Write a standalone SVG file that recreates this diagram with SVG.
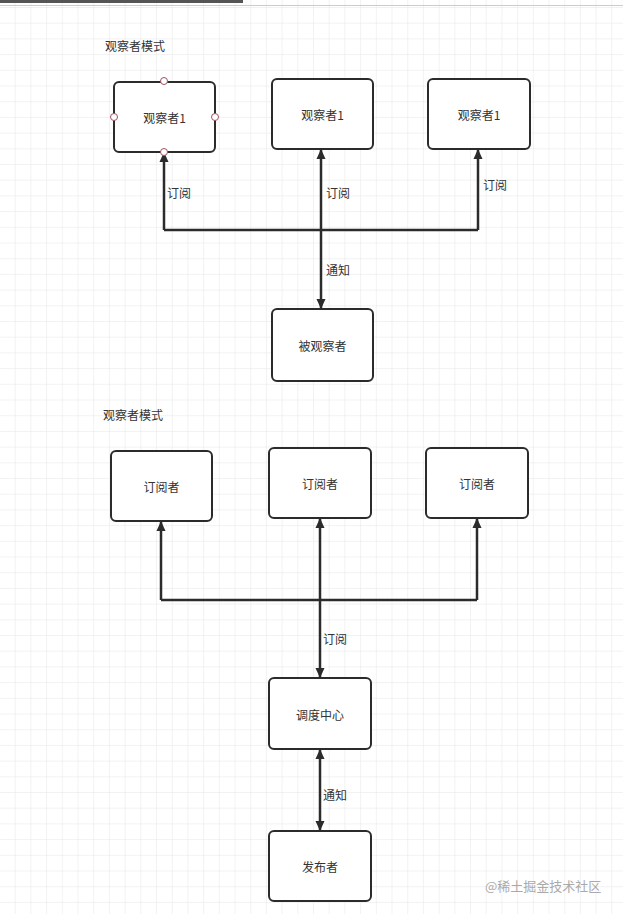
<svg xmlns="http://www.w3.org/2000/svg" width="623" height="914" viewBox="0 0 623 914">
<defs>
<pattern id="g" width="15.7" height="15.7" patternUnits="userSpaceOnUse" x="0" y="8">
<path d="M15.7 0V15.7M0 15.7H15.7" fill="none" stroke="#e6e6e6" stroke-width="1"/>
</pattern>
<marker id="a" markerWidth="10" markerHeight="10" refX="9" refY="5" orient="auto-start-reverse" markerUnits="userSpaceOnUse">
<path d="M0 0.5L10 5L0 9.5Z" fill="#2b2b2b"/>
</marker>
<style>
.n rect{fill:#fff;stroke:#2b2b2b;stroke-width:2}
text{font-family:"Noto Sans CJK SC","Liberation Sans",sans-serif;font-size:12px;fill:#333}
.c{text-anchor:middle;dominant-baseline:central}
.e path{fill:none;stroke:#2b2b2b;stroke-width:2.5}
.p{fill:#fff;stroke:#a05060;stroke-width:1}
</style>
</defs>
<rect width="623" height="914" fill="#fff"/>
<rect width="623" height="914" fill="url(#g)"/>
<rect x="0" y="0" width="243" height="3" fill="#555"/>
<rect x="0" y="5" width="623" height="1" fill="#ccc"/>
<text x="105" y="51">观察者模式</text>
<text x="103" y="420">观察者模式</text>
<g class="e">
<path d="M164 230V153" marker-end="url(#a)"/>
<path d="M478 230V150" marker-end="url(#a)"/>
<path d="M164 230H478"/>
<path d="M321 308V150" marker-end="url(#a)" marker-start="url(#a)"/>
<path d="M161 600V522" marker-end="url(#a)"/>
<path d="M477 600V519" marker-end="url(#a)"/>
<path d="M161 600H477"/>
<path d="M320 677V519" marker-end="url(#a)" marker-start="url(#a)"/>
<path d="M320 830V750" marker-end="url(#a)" marker-start="url(#a)"/>
</g>
<g>
<text x="167" y="198">订阅</text>
<text x="326" y="198">订阅</text>
<text x="483" y="190">订阅</text>
<text x="326" y="275">通知</text>
<text x="323" y="644">订阅</text>
<text x="323" y="800">通知</text>
</g>
<g id="o1" class="n"><rect x="114" y="82" width="101" height="70" rx="5"/><text class="c" x="164.5" y="117">观察者1</text>
<circle class="p" cx="164" cy="81" r="3.5"/><circle class="p" cx="114" cy="117" r="3.5"/><circle class="p" cx="215" cy="117" r="3.5"/><circle class="p" cx="164" cy="152" r="3.5"/></g>
<g id="o2" class="n"><rect x="272" y="79" width="101" height="70" rx="5"/><text class="c" x="322.5" y="114">观察者1</text></g>
<g id="o3" class="n"><rect x="428" y="79" width="102" height="70" rx="5"/><text class="c" x="479" y="114">观察者1</text></g>
<g id="s" class="n"><rect x="272" y="309" width="101" height="72" rx="5"/><text class="c" x="322.5" y="345">被观察者</text></g>
<g id="d1" class="n"><rect x="111" y="451" width="101" height="70" rx="5"/><text class="c" x="161.5" y="486">订阅者</text></g>
<g id="d2" class="n"><rect x="269" y="448" width="102" height="70" rx="5"/><text class="c" x="320" y="483">订阅者</text></g>
<g id="d3" class="n"><rect x="426" y="448" width="102" height="70" rx="5"/><text class="c" x="477" y="483">订阅者</text></g>
<g id="hub" class="n"><rect x="269" y="678" width="102" height="71" rx="5"/><text class="c" x="320" y="714">调度中心</text></g>
<g id="pub" class="n"><rect x="269" y="831" width="102" height="70" rx="5"/><text class="c" x="320" y="866">发布者</text></g>
<text x="485" y="891" style="font-size:13px;fill:#aaa">@稀土掘金技术社区</text>
</svg>
